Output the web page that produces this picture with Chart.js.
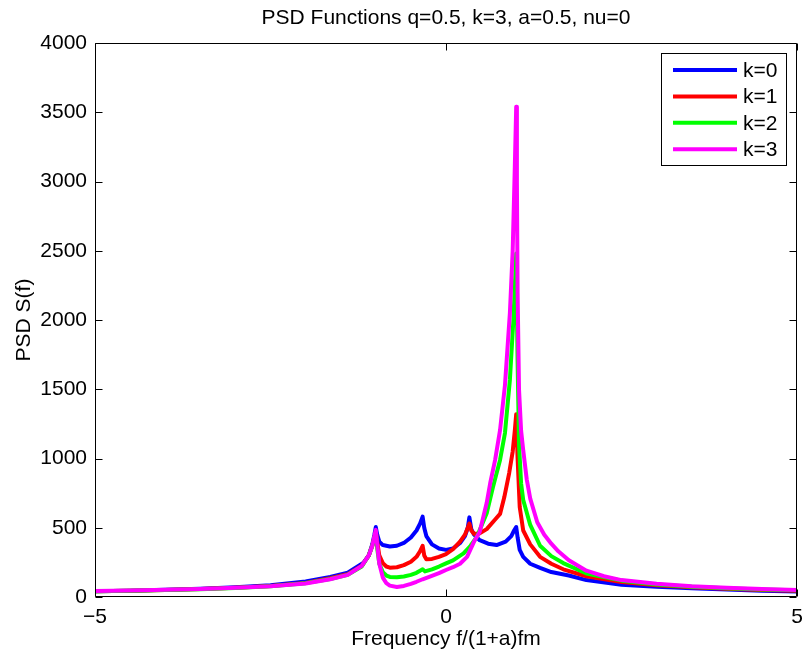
<!DOCTYPE html>
<html><head><meta charset="utf-8">
<script src="https://cdn.jsdelivr.net/npm/chart.js@4.4.1/dist/chart.umd.min.js"></script>
<style>html,body{margin:0;padding:0;background:#fff}canvas{display:block}</style>
</head><body>
<canvas id="c" width="804" height="660"></canvas>
<script>
const chartTitle = 'PSD Functions q=0.5, k=3, a=0.5, nu=0';
const xTitle = 'Frequency f/(1+a)fm';
const yTitle = 'PSD S(f)';
const seriesLabels = ['k=0', 'k=1', 'k=2', 'k=3'];
const seriesColors = ['#0000ff', '#ff0000', '#00ff00', '#ff00ff'];
const xTicks = [-5, 0, 5];
const yTicks = [0, 500, 1000, 1500, 2000, 2500, 3000, 3500, 4000];

const freqK0 = [-5,-4.5,-4,-3.5,-3,-2.5,-2,-1.65,-1.4,-1.18,-1.1,-1.05,-1.02,-1,-0.98,-0.95,-0.9,-0.8,-0.7,-0.6,-0.5,-0.42,-0.37,-0.333,-0.31,-0.28,-0.2,-0.1,0,0.1,0.2,0.27,0.31,0.333,0.36,0.4,0.48,0.6,0.72,0.85,0.93,0.97,1,1.02,1.05,1.1,1.2,1.34,1.5,1.75,2,2.5,3,3.5,4,4.5,5];
const psdK0  = [42,46,52,60,70,85,112,145,175,245,300,380,450,505,450,400,375,365,370,390,430,480,530,580,500,440,380,350,340,350,390,440,500,575,490,450,410,385,375,400,440,480,505,430,340,290,240,210,180,155,122,88,74,64,54,46,40];

const freqK1 = [-5,-4.5,-4,-3.5,-3,-2.5,-2,-1.65,-1.4,-1.2,-1.1,-1.05,-1.02,-1,-0.98,-0.95,-0.9,-0.85,-0.8,-0.7,-0.6,-0.5,-0.42,-0.37,-0.333,-0.31,-0.28,-0.2,-0.1,0,0.1,0.2,0.27,0.31,0.333,0.36,0.4,0.48,0.58,0.7,0.77,0.83,0.9,0.95,0.98,1,1.02,1.05,1.1,1.2,1.34,1.5,1.67,2,2.5,3,3.5,4,4.5,5];
const psdK1  = [42,45,50,57,66,79,102,135,165,225,300,370,430,470,400,300,245,220,212,215,230,255,290,330,370,300,272,275,290,310,345,400,450,500,530,480,455,460,490,560,600,720,895,1050,1200,1320,1000,650,480,380,290,240,200,150,108,84,70,59,51,45];

const freqK2 = [-5,-4.5,-4,-3.5,-3,-2.5,-2,-1.65,-1.4,-1.2,-1.1,-1.05,-1.02,-1,-0.98,-0.95,-0.9,-0.85,-0.8,-0.7,-0.6,-0.5,-0.42,-0.37,-0.333,-0.3,-0.2,-0.1,0,0.1,0.25,0.35,0.44,0.58,0.67,0.77,0.84,0.91,0.96,1,1.02,1.04,1.07,1.1,1.2,1.34,1.5,1.67,2,2.5,3,3.5,4,4.5,5];
const psdK2  = [42,45,50,56,65,77,100,130,160,220,300,370,430,460,350,240,180,155,145,142,148,160,175,190,200,185,200,220,243,265,315,370,435,604,795,990,1184,1567,2000,2480,1700,1100,820,700,520,370,295,245,170,118,90,74,63,55,48];

const freqK3 = [-5,-4.5,-4,-3.5,-3,-2.5,-2,-1.65,-1.4,-1.2,-1.1,-1.05,-1.02,-1,-0.98,-0.95,-0.9,-0.85,-0.8,-0.7,-0.6,-0.5,-0.42,-0.333,-0.23,-0.1,0,0.1,0.2,0.3,0.4,0.48,0.58,0.63,0.7,0.77,0.84,0.91,0.95,0.98,1,1.01,1.02,1.04,1.07,1.1,1.15,1.2,1.3,1.4,1.5,1.6,1.75,2,2.25,2.5,3,3.5,4,4.5,5];
const psdK3  = [44,47,52,58,66,78,98,128,160,225,300,370,440,485,380,240,140,100,82,72,80,95,110,128,147,172,195,215,240,290,400,470,680,823,990,1205,1530,2050,2500,3100,3540,3000,2200,1500,1200,1060,850,710,540,450,385,330,265,190,150,122,95,77,66,58,51];

const freqs = [freqK0, freqK1, freqK2, freqK3];
const psds = [psdK0, psdK1, psdK2, psdK3];

const FONT_FAMILY = "'Liberation Sans', Arial, Helvetica, sans-serif";
Chart.defaults.font.family = FONT_FAMILY;
Chart.defaults.color = '#000';

const datasets = seriesLabels.map((lab, i) => ({
  label: lab,
  data: freqs[i].map((f, j) => ({ x: f, y: psds[i][j] })),
  borderColor: seriesColors[i],
  backgroundColor: seriesColors[i],
  borderWidth: 4,
  pointRadius: 0,
  tension: 0,
  fill: false,
  borderJoinStyle: 'round',
  borderCapStyle: 'round',
  order: seriesLabels.length - i
}));

const boxPlugin = {
  id: 'boxTicks',
  afterDatasetsDraw(chart) {
    const { ctx, chartArea: a, scales } = chart;
    ctx.save();
    ctx.strokeStyle = '#000';
    ctx.lineWidth = 1;
    ctx.beginPath();
    const L = Math.round(a.left) + 0.5, R = Math.round(a.right) - 0.5;
    const T = Math.round(a.top) + 0.5, B = Math.round(a.bottom) - 0.5;
    ctx.rect(L, T, R - L, B - T);
    const tl = 7;
    scales.x.ticks.forEach(t => {
      const px = Math.round(scales.x.getPixelForValue(t.value)) + 0.5;
      ctx.moveTo(px, B); ctx.lineTo(px, B - tl);
      ctx.moveTo(px, T); ctx.lineTo(px, T + tl);
    });
    scales.y.ticks.forEach(t => {
      const py = Math.round(scales.y.getPixelForValue(t.value)) + 0.5;
      ctx.moveTo(L, py); ctx.lineTo(L + tl, py);
      ctx.moveTo(R, py); ctx.lineTo(R - tl, py);
    });
    ctx.stroke();
    ctx.restore();
  },
  afterDraw(chart) {
    const { ctx, chartArea: a } = chart;
    ctx.save();
    // title centred over the plot area
    ctx.fillStyle = '#000';
    ctx.font = '21px ' + FONT_FAMILY;
    ctx.textAlign = 'center';
    ctx.textBaseline = 'middle';
    ctx.fillText(chartTitle, (a.left + a.right) / 2, 18);
    // legend
    const bx = 661.5, by = 53.5, bw = 125, bh = 112;
    ctx.fillStyle = '#fff';
    ctx.fillRect(bx, by, bw, bh);
    ctx.strokeStyle = '#000';
    ctx.lineWidth = 1;
    ctx.strokeRect(bx, by, bw, bh);
    ctx.textBaseline = 'middle';
    ctx.textAlign = 'left';
    chart.data.datasets.forEach((ds, i) => {
      const y = 70 + i * 26.4;
      ctx.strokeStyle = ds.borderColor;
      ctx.lineWidth = 4;
      ctx.beginPath();
      ctx.moveTo(673, y); ctx.lineTo(737, y);
      ctx.stroke();
      ctx.fillStyle = '#000';
      ctx.fillText(ds.label, 743, y + 1);
    });
    ctx.restore();
  }
};

new Chart(document.getElementById('c'), {
  type: 'line',
  data: { datasets },
  options: {
    responsive: false,
    animation: false,
    devicePixelRatio: 1,
    layout: { padding: { left: 0, right: 7, top: 43, bottom: 0 } },
    plugins: {
      legend: { display: false },
      tooltip: { enabled: false },
      title: { display: false }
    },
    scales: {
      x: {
        type: 'linear',
        min: -5, max: 5,
        afterBuildTicks: s => { s.ticks = xTicks.map(v => ({ value: v })); },
        afterFit: s => { s.height = 63; s.paddingLeft = 0; s.paddingRight = 0; },
        grid: { display: false, drawTicks: false },
        border: { display: false },
        ticks: {
          padding: 8, color: '#000', font: { size: 21 }, maxRotation: 0, autoSkip: false,
          callback: v => (v < 0 ? '\u2212' + Math.abs(v) : String(v))
        },
        title: { display: true, text: xTitle, color: '#000', font: { size: 21 }, padding: { top: 0, bottom: 7.9 } }
      },
      y: {
        type: 'linear',
        min: 0, max: 4000,
        afterBuildTicks: s => { s.ticks = yTicks.map(v => ({ value: v })); },
        afterFit: s => { s.width = 95; s.paddingTop = 0; s.paddingBottom = 0; },
        grid: { display: false, drawTicks: false },
        border: { display: false },
        ticks: { padding: 8, color: '#000', font: { size: 21 }, autoSkip: false, callback: v => String(v) },
        title: { display: true, text: yTitle, color: '#000', font: { size: 21 }, padding: { top: 11.4, bottom: 0 } }
      }
    }
  },
  plugins: [boxPlugin]
});
</script>
</body></html>
